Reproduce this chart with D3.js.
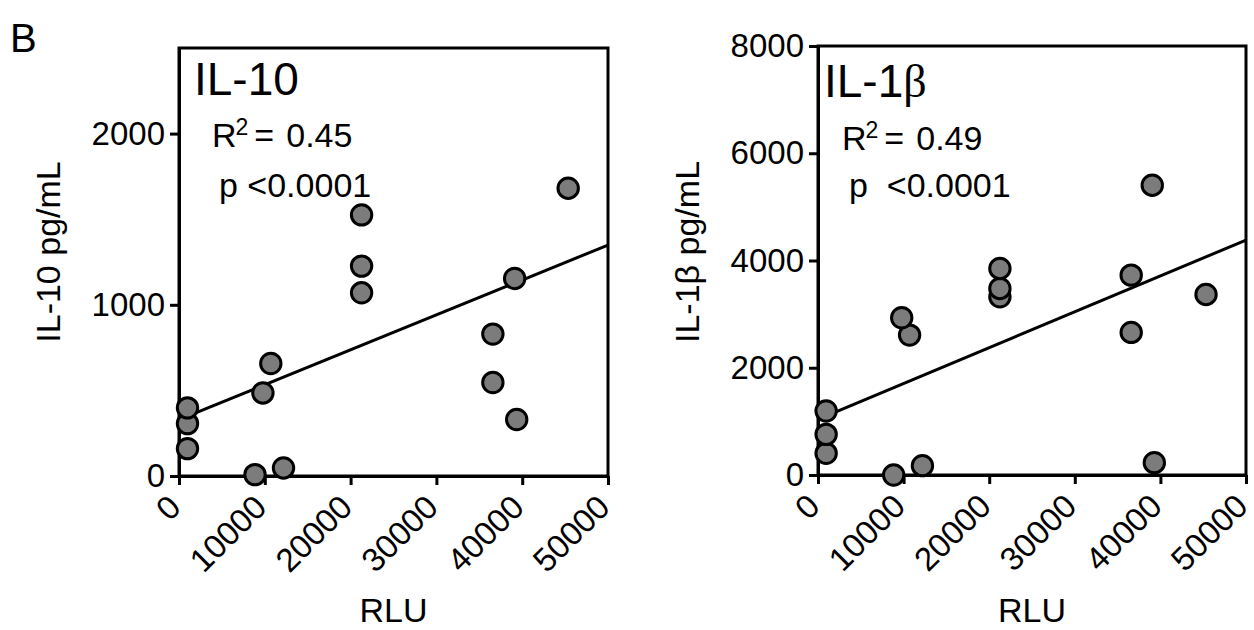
<!DOCTYPE html>
<html>
<head>
<meta charset="utf-8">
<script src="https://cdn.jsdelivr.net/npm/d3@7"></script>
<style>
  html, body { margin: 0; padding: 0; background: #fff; }
  text { font-family: "Liberation Sans", Arial, sans-serif; fill: #000; }
</style>
</head>
<body>
<svg id="chart" width="1254" height="630"></svg>
<script>
// ---- data ----
const rluX = [990, 990, 990, 8860, 12180, 9780, 10700, 21280, 21280, 21280, 36580, 36580, 39120, 39360, 45360];
const il10Y = [398, 306, 160, 8, 47, 485, 657, 1525, 1226, 1070, 829, 546, 1154, 330, 1681];

const rluX2 = [950, 950, 950, 8840, 12200, 9780, 10700, 21250, 21250, 21250, 36590, 36590, 39050, 39290, 45330];
const il1bY = [1193, 758, 404, 0, 174, 2932, 2609, 3852, 3479, 3323, 3727, 2659, 5404, 230, 3367];

const fitX = [0, 50000];
const il10Fit = [329, 1349];
const il1bFit = [1036, 4381];

const xTicks = [0, 10000, 20000, 30000, 40000, 50000];
const il10Ticks = [0, 1000, 2000];
const il1bTicks = [0, 2000, 4000, 6000, 8000];

const panels = [
  { xs: rluX, ys: il10Y, fit: il10Fit, yMax: 2500, yTicks: il10Ticks,
    left: 179, right: 608, top: 48, bottom: 476,
    title: "IL-10", greek: "", ylabel: "IL-10 pg/mL",
    r2: "0.45", statX: 212, pGap: "", r2Base: 147, pBase: 197, titleBase: 95, titleX: 194 },
  { xs: rluX2, ys: il1bY, fit: il1bFit, yMax: 8000, yTicks: il1bTicks,
    left: 818, right: 1246, top: 46, bottom: 475,
    title: "IL-1", greek: "β", ylabel: "IL-1β pg/mL",
    r2: "0.49", statX: 842, pGap: "\u00A0", r2Base: 150, pBase: 197, titleBase: 97, titleX: 824 }
];

const svg = d3.select("#chart");

svg.append("text").attr("x", 10).attr("y", 52)
  .style("font-size", "40px").text("B");

panels.forEach(p => {
  const x = d3.scaleLinear().domain([0, 50000]).range([p.left, p.right]);
  const y = d3.scaleLinear().domain([0, p.yMax]).range([p.bottom, p.top]);
  const g = svg.append("g");

  // frame
  g.append("rect").attr("x", p.left).attr("y", p.top)
    .attr("width", p.right - p.left).attr("height", p.bottom - p.top)
    .attr("fill", "none").attr("stroke", "#000").attr("stroke-width", 3);

  // x axis
  const xa = g.append("g").attr("transform", `translate(0,${p.bottom})`)
    .call(d3.axisBottom(x).tickValues(xTicks).tickSize(9).tickSizeOuter(0).tickFormat(d3.format("d")));
  xa.select(".domain").attr("stroke-width", 3);
  xa.selectAll(".tick line").attr("stroke-width", 3);
  xa.selectAll(".tick text")
    .attr("y", 0).attr("dy", "0.35em")
    .attr("transform", "translate(-5,25) rotate(-45)")
    .attr("text-anchor", "end")
    .style("font-size", "33px")
    .style("font-family", '"Liberation Sans", Arial, sans-serif');

  // y axis
  const ya = g.append("g").attr("transform", `translate(${p.left},0)`)
    .call(d3.axisLeft(y).tickValues(p.yTicks).tickSize(9).tickSizeOuter(0).tickPadding(5).tickFormat(d3.format("d")));
  ya.select(".domain").attr("stroke-width", 3);
  ya.selectAll(".tick line").attr("stroke-width", 3);
  ya.selectAll(".tick text")
    .style("font-size", "33px")
    .style("font-family", '"Liberation Sans", Arial, sans-serif');

  // regression line
  const line = d3.line().x(d => x(d[0])).y(d => y(d[1]));
  g.append("path").datum(fitX.map((v, i) => [v, p.fit[i]]))
    .attr("d", line).attr("fill", "none").attr("stroke", "#000").attr("stroke-width", 3);

  // points (lower values drawn first)
  const pts = p.xs.map((v, i) => [v, p.ys[i]]).sort((a, b) => a[1] - b[1]);
  g.selectAll("circle.pt").data(pts).enter().append("circle")
    .attr("class", "pt")
    .attr("cx", d => x(d[0])).attr("cy", d => y(d[1])).attr("r", 10.2)
    .attr("fill", "#7c7c7c").attr("stroke", "#000").attr("stroke-width", 3);

  // title
  const t = g.append("text").attr("x", p.titleX).attr("y", p.titleBase).style("font-size", "46px");
  t.append("tspan").text(p.title);
  if (p.greek) t.append("tspan").style("font-family", '"Liberation Serif", "Times New Roman", serif').text(p.greek);

  // stats
  const r = g.append("text").attr("x", p.statX).attr("y", p.r2Base).style("font-size", "34px");
  r.append("tspan").text("R");
  r.append("tspan").attr("dy", -12).attr("dx", -1).style("font-size", "23px").text("2");
  r.append("tspan").attr("dy", 12).attr("dx", 6).text("=");
  r.append("tspan").attr("dx", 12).text(p.r2);

  const pt = g.append("text").attr("x", p.statX + 7).attr("y", p.pBase).style("font-size", "34px");
  pt.append("tspan").text("p " + p.pGap + "<0.0001");

  // axis titles
  g.append("text").attr("x", (p.left + p.right) / 2).attr("y", 622)
    .attr("text-anchor", "middle").style("font-size", "34px").text("RLU");
  g.append("text")
    .attr("transform", `translate(${p.left - 119},252) rotate(-90)`)
    .attr("text-anchor", "middle").style("font-size", "34px")
    .text(p.ylabel);
});
</script>
</body>
</html>
